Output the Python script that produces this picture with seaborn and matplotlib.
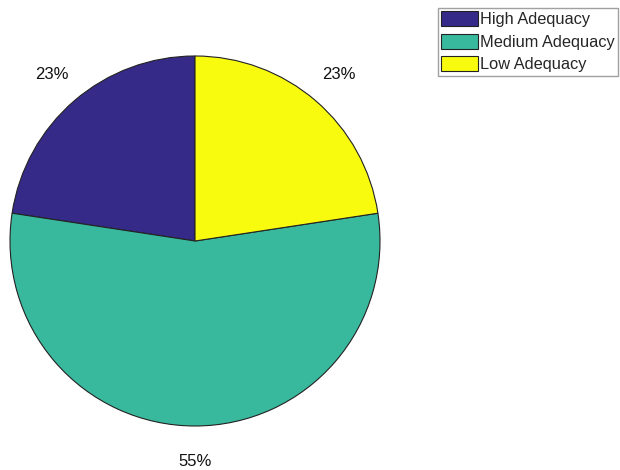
import matplotlib
matplotlib.use("Agg")
import matplotlib.pyplot as plt
import seaborn as sns

# data
categories = ["High Adequacy", "Medium Adequacy", "Low Adequacy"]
shares = [22.6, 54.8, 22.6]
colors = ["#352A87", "#38B99E", "#F9FB0E"]

sns.set_style("white")
plt.rcParams["font.family"] = ["Arial", "Liberation Sans", "DejaVu Sans"]

fig = plt.figure(figsize=(6.2, 4.7), dpi=100)
ax = fig.add_axes([0, 0, 1, 1])

# pie centred at (195, 241) px, radius 185 px
r_px, cx, cy = 185.0, 195.0, 241.0
wedges, texts, autotexts = ax.pie(
    shares,
    colors=colors,
    startangle=90,
    counterclock=True,
    autopct=lambda p: f"{p:.0f}%",
    pctdistance=1.19,
    wedgeprops=dict(edgecolor="#222222", linewidth=0.8),
    textprops=dict(fontsize=12, color="#111111"),
)
ax.set_xlim(-cx / r_px, (620 - cx) / r_px)
ax.set_ylim(-(470 - cy) / r_px, cy / r_px)
ax.set_aspect("auto")
ax.axis("off")

leg = ax.legend(
    wedges, categories,
    loc="upper right",
    bbox_to_anchor=(618 / 620, 1 - 8 / 470),
    bbox_transform=fig.transFigure,
    fontsize=11.8,
    frameon=True,
    fancybox=False,
    handlelength=2.2,
    handleheight=1.05,
    handletextpad=0.15,
    labelspacing=0.38,
    borderpad=0.2,
    borderaxespad=0,
)
leg.get_frame().set_edgecolor("#888888")
leg.get_frame().set_linewidth(1.0)

fig.savefig("out.png", dpi=100)
